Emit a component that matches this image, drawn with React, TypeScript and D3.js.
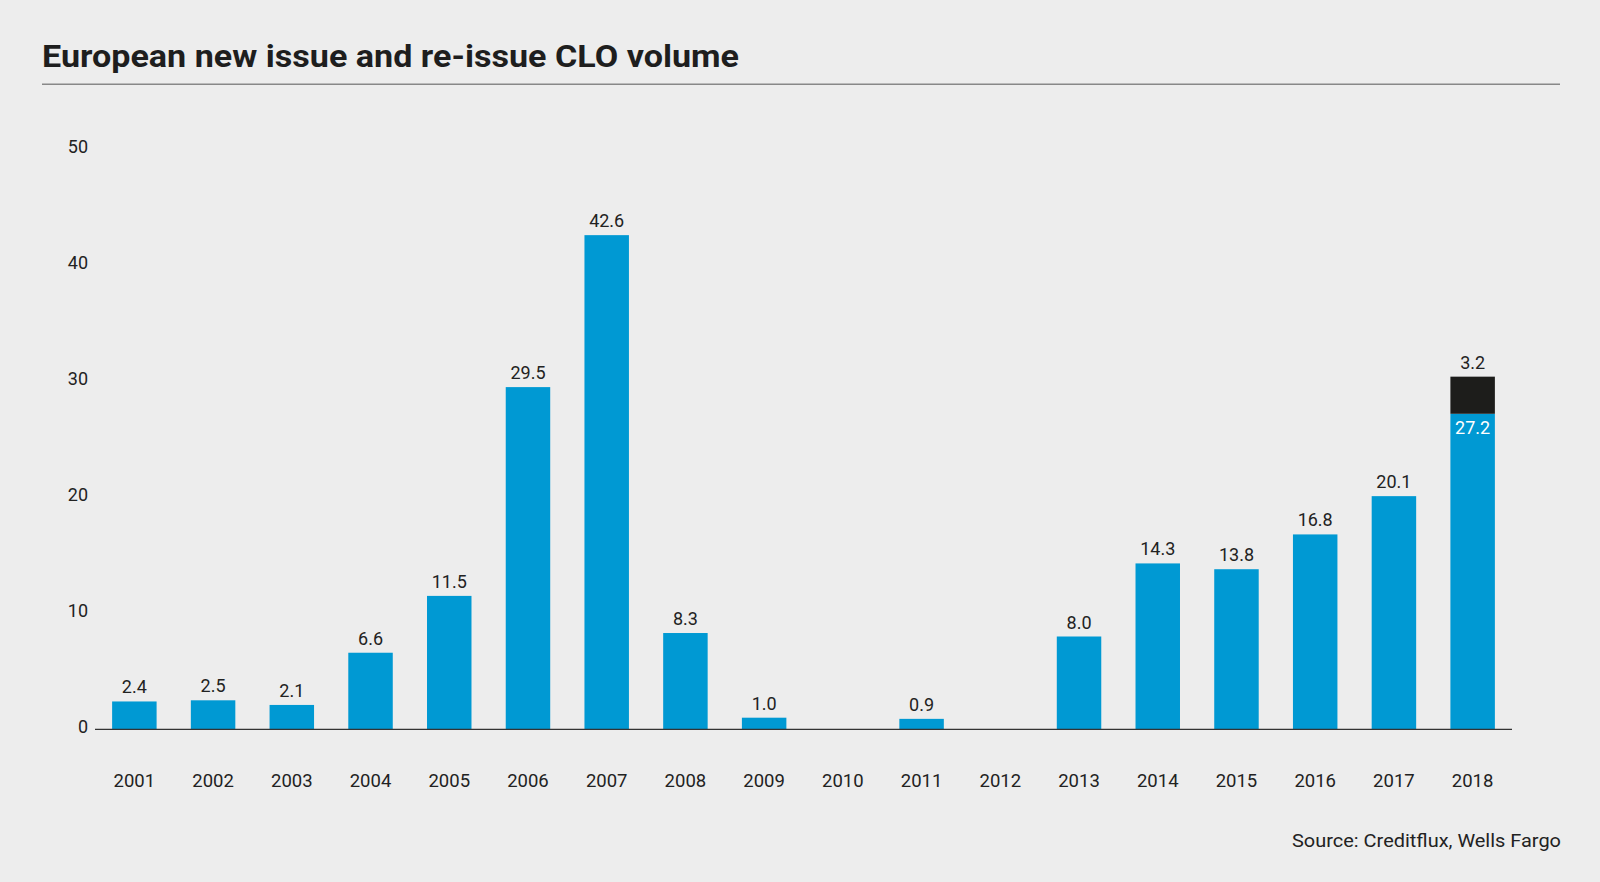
import React, { useEffect, useRef } from 'react'
import * as d3 from 'd3'

const years = ['2001', '2002', '2003', '2004', '2005', '2006', '2007', '2008', '2009', '2010', '2011', '2012', '2013', '2014', '2015', '2016', '2017', '2018']
const newIssue = [2.4, 2.5, 2.1, 6.6, 11.5, 29.5, 42.6, 8.3, 1.0, 0, 0.9, 0, 8.0, 14.3, 13.8, 16.8, 20.1, 27.2]
const reIssue = [0, 0, 0, 0, 0, 0, 0, 0, 0, 0, 0, 0, 0, 0, 0, 0, 0, 3.2]
const yTicks = [0, 10, 20, 30, 40, 50]

const title = 'European new issue and re-issue CLO volume'
const source = 'Source: Creditflux, Wells Fargo'

const App = () => {
	const ref = useRef<SVGSVGElement>(null)

	const width = 1600
	const height = 882
	const axisLeft = 95
	const axisRight = 1512
	const baseY = 729.3
	const topY = 149.3
	const blue = '#0099d3'
	const dark = '#1d1d1b'
	const textColor = '#222222'
	const font = 'Roboto, "Liberation Sans", sans-serif'

	useEffect(() => {
		document.body.style.margin = '0'
		if (!ref.current) return
		const svg = d3.select(ref.current)
		svg.selectAll('*').remove()

		svg.append('rect').attr('width', width).attr('height', height).attr('fill', '#ededed')

		// title + rule
		svg
			.append('text')
			.attr('x', 42)
			.attr('y', 66.5)
			.attr('font-family', font)
			.attr('font-weight', 700)
			.attr('font-size', 32)
			.attr('textLength', 697)
			.attr('lengthAdjust', 'spacingAndGlyphs')
			.attr('fill', '#1e1e1e')
			.text(title)

		svg
			.append('line')
			.attr('x1', 42)
			.attr('x2', 1560)
			.attr('y1', 84.3)
			.attr('y2', 84.3)
			.attr('stroke', '#888888')
			.attr('stroke-width', 1.5)

		const x = d3
			.scaleBand()
			.domain(years)
			.range([axisLeft, axisRight])
			.paddingInner(0.435)
			.paddingOuter(0.2175)

		const y = d3.scaleLinear().domain([0, 50]).range([baseY, topY])

		// y tick labels
		svg
			.append('g')
			.selectAll('text')
			.data(yTicks)
			.join('text')
			.attr('x', 88)
			.attr('y', d => y(d) + 4)
			.attr('text-anchor', 'end')
			.attr('font-family', font)
			.attr('font-size', 18)
			.attr('fill', textColor)
			.text(d => d)

		const rows = years.map((yr, i) => ({ yr, n: newIssue[i], r: reIssue[i] }))

		// new issue bars
		svg
			.append('g')
			.selectAll('rect')
			.data(rows.filter(d => d.n > 0))
			.join('rect')
			.attr('x', d => x(d.yr)!)
			.attr('width', x.bandwidth())
			.attr('y', d => y(d.n))
			.attr('height', d => baseY - y(d.n))
			.attr('fill', blue)

		// re-issue bars stacked on top
		svg
			.append('g')
			.selectAll('rect')
			.data(rows.filter(d => d.r > 0))
			.join('rect')
			.attr('x', d => x(d.yr)!)
			.attr('width', x.bandwidth())
			.attr('y', d => y(d.n + d.r))
			.attr('height', d => y(d.n) - y(d.n + d.r))
			.attr('fill', dark)

		// value labels
		const labels = svg.append('g').attr('font-family', font).attr('font-size', 18).attr('text-anchor', 'middle')

		labels
			.selectAll('text.nv')
			.data(rows.filter(d => d.n > 0))
			.join('text')
			.attr('class', 'nv')
			.attr('x', d => x(d.yr)! + x.bandwidth() / 2)
			.attr('y', d => (d.r > 0 ? y(d.n) + 20 : y(d.n) - 8))
			.attr('fill', d => (d.r > 0 ? '#ffffff' : textColor))
			.text(d => d.n.toFixed(1))

		labels
			.selectAll('text.rv')
			.data(rows.filter(d => d.r > 0))
			.join('text')
			.attr('class', 'rv')
			.attr('x', d => x(d.yr)! + x.bandwidth() / 2)
			.attr('y', d => y(d.n + d.r) - 8)
			.attr('fill', textColor)
			.text(d => d.r.toFixed(1))

		// baseline
		svg
			.append('line')
			.attr('x1', axisLeft)
			.attr('x2', axisRight)
			.attr('y1', baseY)
			.attr('y2', baseY)
			.attr('stroke', '#333333')
			.attr('stroke-width', 1.3)

		// year labels
		svg
			.append('g')
			.selectAll('text')
			.data(years)
			.join('text')
			.attr('x', d => x(d)! + x.bandwidth() / 2)
			.attr('y', 787)
			.attr('text-anchor', 'middle')
			.attr('font-family', font)
			.attr('font-size', 18.5)
			.attr('fill', textColor)
			.text(d => d)

		svg
			.append('text')
			.attr('x', 1561)
			.attr('y', 847)
			.attr('text-anchor', 'end')
			.attr('font-family', font)
			.attr('font-size', 19)
			.attr('textLength', 269)
			.attr('lengthAdjust', 'spacingAndGlyphs')
			.attr('fill', textColor)
			.text(source)
	}, [])

	return (
		<svg
			ref={ref}
			width={width}
			height={height}
			style={{ position: 'absolute', left: 0, top: 0, display: 'block' }}
		></svg>
	)
}

export default App
